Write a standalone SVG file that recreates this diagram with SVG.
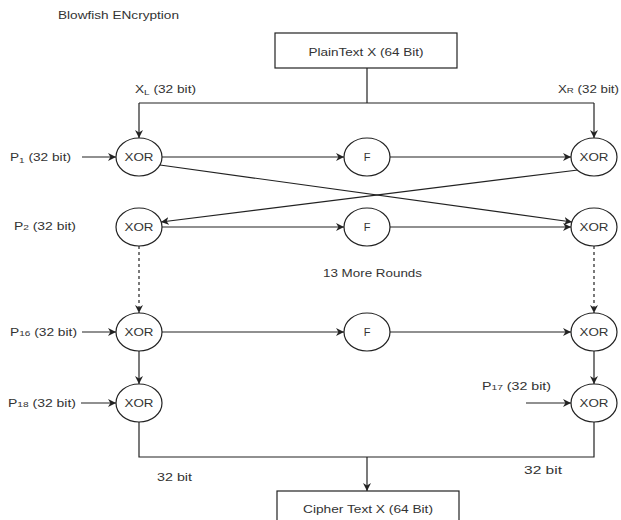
<svg xmlns="http://www.w3.org/2000/svg" width="621" height="520" viewBox="0 0 621 520">
<style>
text{font-family:"Liberation Sans",Arial,sans-serif;font-size:11px;fill:#333}
.c{text-anchor:middle}
.s{font-size:8px}
.n ellipse,.n rect{fill:#fff;stroke:#222;stroke-width:1.2}
#edges path{fill:none;stroke:#222;stroke-width:1.2}
#edges .d{stroke-dasharray:3 3}
</style>
<defs>
<marker id="a" viewBox="0 0 10 10" refX="10" refY="5" markerWidth="8" markerHeight="8" markerUnits="userSpaceOnUse" orient="auto">
<path d="M0,0 L10,5 L0,10 L3,5 Z" fill="#222"/>
</marker>
</defs>
<rect width="621" height="520" fill="#fff"/>
<text x="58" y="19" textLength="121" lengthAdjust="spacingAndGlyphs">Blowfish ENcryption</text>

<g id="edges">
<path d="M367,68 V103 M139,103 H594"/>
<path d="M139,103 V138" marker-end="url(#a)"/>
<path d="M594,103 V138" marker-end="url(#a)"/>
<path d="M82,157 H116" marker-end="url(#a)"/>
<path d="M162,157 H344" marker-end="url(#a)"/>
<path d="M390,157 H571" marker-end="url(#a)"/>
<path d="M160,165 L572,222" marker-end="url(#a)"/>
<path d="M578,170 L161,222" marker-end="url(#a)"/>
<path d="M162,227 H344" marker-end="url(#a)"/>
<path d="M390,227 H571" marker-end="url(#a)"/>
<path class="d" d="M139,246 V313" marker-end="url(#a)"/>
<path class="d" d="M594,246 V313" marker-end="url(#a)"/>
<path d="M82,332 H116" marker-end="url(#a)"/>
<path d="M162,332 H344" marker-end="url(#a)"/>
<path d="M390,332 H571" marker-end="url(#a)"/>
<path d="M139,351 V384" marker-end="url(#a)"/>
<path d="M594,351 V384" marker-end="url(#a)"/>
<path d="M81,403 H116" marker-end="url(#a)"/>
<path d="M526,403 H571" marker-end="url(#a)"/>
<path d="M139,422 V457 H594 V422"/>
<path d="M367,457 V491" marker-end="url(#a)"/>
</g>

<g id="plain" class="n"><rect x="275" y="33" width="182" height="35"/><text class="c" x="366" y="56" textLength="115" lengthAdjust="spacingAndGlyphs">PlainText X (64 Bit)</text></g>
<g id="cipher" class="n"><rect x="277" y="491" width="182" height="35"/><text class="c" x="368" y="513" textLength="130" lengthAdjust="spacingAndGlyphs">Cipher Text X (64 Bit)</text></g>

<g id="xor1l" class="n"><ellipse cx="139" cy="157" rx="23" ry="19"/><text class="c" x="139" y="161" textLength="29" lengthAdjust="spacingAndGlyphs">XOR</text></g>
<g id="f1" class="n"><ellipse cx="367" cy="157" rx="23" ry="19"/><text class="c" x="367" y="161">F</text></g>
<g id="xor1r" class="n"><ellipse cx="594" cy="157" rx="23" ry="19"/><text class="c" x="594" y="161" textLength="29" lengthAdjust="spacingAndGlyphs">XOR</text></g>
<g id="xor2l" class="n"><ellipse cx="139" cy="227" rx="23" ry="19"/><text class="c" x="139" y="231" textLength="29" lengthAdjust="spacingAndGlyphs">XOR</text></g>
<g id="f2" class="n"><ellipse cx="367" cy="227" rx="23" ry="19"/><text class="c" x="367" y="231">F</text></g>
<g id="xor2r" class="n"><ellipse cx="594" cy="227" rx="23" ry="19"/><text class="c" x="594" y="231" textLength="29" lengthAdjust="spacingAndGlyphs">XOR</text></g>
<g id="xor3l" class="n"><ellipse cx="139" cy="332" rx="23" ry="19"/><text class="c" x="139" y="336" textLength="29" lengthAdjust="spacingAndGlyphs">XOR</text></g>
<g id="f3" class="n"><ellipse cx="367" cy="332" rx="23" ry="19"/><text class="c" x="367" y="336">F</text></g>
<g id="xor3r" class="n"><ellipse cx="594" cy="332" rx="23" ry="19"/><text class="c" x="594" y="336" textLength="29" lengthAdjust="spacingAndGlyphs">XOR</text></g>
<g id="xor4l" class="n"><ellipse cx="139" cy="403" rx="23" ry="19"/><text class="c" x="139" y="407" textLength="29" lengthAdjust="spacingAndGlyphs">XOR</text></g>
<g id="xor4r" class="n"><ellipse cx="594" cy="403" rx="23" ry="19"/><text class="c" x="594" y="407" textLength="29" lengthAdjust="spacingAndGlyphs">XOR</text></g>

<g id="labels">
<text x="135" y="93" textLength="61" lengthAdjust="spacingAndGlyphs">X<tspan class="s" dy="2">L</tspan><tspan dy="-2"> (32 bit)</tspan></text>
<text x="558" y="93" textLength="61" lengthAdjust="spacingAndGlyphs">X<tspan class="s">R</tspan> (32 bit)</text>
<text x="10" y="161" textLength="61" lengthAdjust="spacingAndGlyphs">P<tspan class="s" dy="2">1</tspan><tspan dy="-2"> (32 bit)</tspan></text>
<text x="14" y="230" textLength="62" lengthAdjust="spacingAndGlyphs">P<tspan class="s">2</tspan> (32 bit)</text>
<text x="10" y="336" textLength="67" lengthAdjust="spacingAndGlyphs">P<tspan class="s">16</tspan> (32 bit)</text>
<text x="8" y="407" textLength="68" lengthAdjust="spacingAndGlyphs">P<tspan class="s">18</tspan> (32 bit)</text>
<text x="482" y="390" textLength="69" lengthAdjust="spacingAndGlyphs">P<tspan class="s">17</tspan> (32 bit)</text>
<text x="323" y="277" textLength="99" lengthAdjust="spacingAndGlyphs">13 More Rounds</text>
<text x="157" y="481" textLength="35" lengthAdjust="spacingAndGlyphs">32 bit</text>
<text x="524" y="474" textLength="38" lengthAdjust="spacingAndGlyphs">32 bit</text>
</g>
</svg>
